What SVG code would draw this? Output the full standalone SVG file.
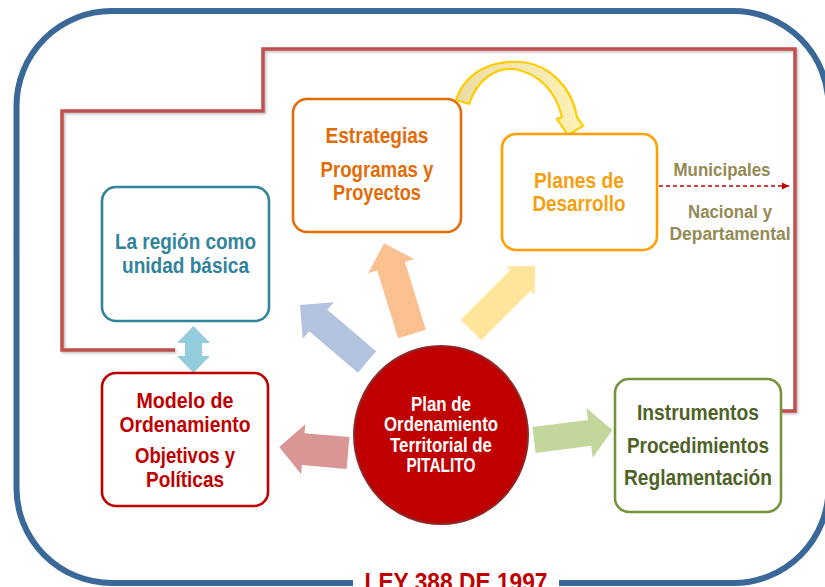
<svg xmlns="http://www.w3.org/2000/svg" width="825" height="587" viewBox="0 0 825 587">
<defs>
<style>
text{font-family:"Liberation Sans Narrow","Liberation Sans",Arial,sans-serif;font-weight:bold;text-anchor:middle}
.box{fill:#fff;stroke-width:2.6}
.t21{font-size:22.5px}
.t18{font-size:19.5px}
.t17{font-size:18px}
</style>
<linearGradient id="curveGrad" x1="0" y1="0" x2="1" y2="0">
<stop offset="0" stop-color="#EADDA6"/>
<stop offset="0.5" stop-color="#F3E6AE"/>
<stop offset="1" stop-color="#FFF2B8"/>
</linearGradient>
<marker id="dashHead" markerWidth="8" markerHeight="8" refX="7" refY="4" orient="auto" markerUnits="userSpaceOnUse">
<path d="M0,0.5 L7,4 L0,7.5 Z" fill="#C00000"/>
</marker>
<filter id="shadow" x="-5%" y="-5%" width="110%" height="110%">
<feDropShadow dx="1.5" dy="1.5" stdDeviation="1" flood-color="#000" flood-opacity="0.25"/>
</filter>
</defs>
<rect x="0" y="0" width="825" height="587" fill="#fff"/>
<rect id="frame" x="16.5" y="11" width="812" height="572" rx="95" ry="95" fill="none" stroke="#3A6898" stroke-width="6"/>

<g id="connectors">
<path d="M175,350 H62 V111 H263 V49 H795 V411 H781" fill="none" stroke="#C0504D" stroke-width="3.5" filter="url(#shadow)"/>
<line x1="645" y1="186" x2="789" y2="186" stroke="#C00000" stroke-width="1.3" stroke-dasharray="4,3" marker-end="url(#dashHead)"/>
<polygon fill="#B3C2DE" points="0,-14 64,-14 64,-24 88,0 64,24 64,14 0,14" transform="translate(367,362) rotate(-139.6)"/>
<polygon fill="#FAC090" points="0,-14.5 71,-14.5 71,-24 95,0 71,24 71,14.5 0,14.5" transform="translate(412,334) rotate(-107.1)"/>
<polygon fill="#FFE599" points="0,-14.5 70,-14.5 70,-20 90.5,0 70,20 70,14.5 0,14.5" transform="translate(471,330) rotate(-45)"/>
<polygon fill="#D99694" points="0,-16 45,-16 45,-25 69,0 45,25 45,16 0,16" transform="translate(348,453) rotate(-175)"/>
<polygon fill="#C3D69B" points="0,-13 56,-13 56,-25 79,0 56,25 56,13 0,13" transform="translate(534,440) rotate(-7.3)"/>
<path fill="#93CDDD" d="M193.5,326 L210,343 L202,343 L202,356 L210,356 L193.5,373 L177,356 L185,356 L185,343 L177,343 Z"/>
<path fill="url(#curveGrad)" stroke="#FFCC00" stroke-width="2.2" stroke-linejoin="miter" d="M456,100 C466,70 495,60 520,62 C550,64 572,88 577,117 L583,126 L568,135 L557,119 L562,117 C556,92 540,74 515,69 C495,67 477,80 469,104 Z"/>
</g>

<g id="node-region">
<rect class="box" x="102" y="187" width="167" height="134" rx="14" stroke="#31849B"/>
<text class="t21" fill="#31849B" x="185.5" y="249" textLength="141" lengthAdjust="spacingAndGlyphs">La región como</text>
<text class="t21" fill="#31849B" x="185.5" y="273" textLength="127" lengthAdjust="spacingAndGlyphs">unidad básica</text>
</g>

<g id="node-estrategias">
<rect class="box" x="293" y="99" width="168" height="133" rx="14" stroke="#E36C09"/>
<text class="t21" fill="#E36C09" x="377" y="143" textLength="103" lengthAdjust="spacingAndGlyphs">Estrategias</text>
<text class="t21" fill="#E36C09" x="377" y="177" textLength="113" lengthAdjust="spacingAndGlyphs">Programas y</text>
<text class="t21" fill="#E36C09" x="377" y="200" textLength="88" lengthAdjust="spacingAndGlyphs">Proyectos</text>
</g>

<g id="node-planes">
<rect class="box" x="502" y="134" width="155" height="116" rx="14" stroke="#FFA000"/>
<text class="t21" fill="#F5A00F" x="579" y="188" textLength="90" lengthAdjust="spacingAndGlyphs">Planes de</text>
<text class="t21" fill="#F5A00F" x="579" y="211" textLength="93" lengthAdjust="spacingAndGlyphs">Desarrollo</text>
</g>

<g id="labels-planes">
<text class="t17" fill="#948A54" x="722" y="176" textLength="97" lengthAdjust="spacingAndGlyphs">Municipales</text>
<text class="t17" fill="#948A54" x="730" y="218" textLength="84" lengthAdjust="spacingAndGlyphs">Nacional y</text>
<text class="t17" fill="#948A54" x="730" y="240" textLength="121" lengthAdjust="spacingAndGlyphs">Departamental</text>
</g>

<g id="node-modelo">
<rect class="box" x="102" y="373" width="166" height="133" rx="14" stroke="#C00000"/>
<text class="t21" fill="#C00000" x="185" y="408" textLength="97" lengthAdjust="spacingAndGlyphs">Modelo de</text>
<text class="t21" fill="#C00000" x="185" y="432" textLength="131" lengthAdjust="spacingAndGlyphs">Ordenamiento</text>
<text class="t21" fill="#C00000" x="185" y="463" textLength="100" lengthAdjust="spacingAndGlyphs">Objetivos y</text>
<text class="t21" fill="#C00000" x="185" y="487" textLength="78" lengthAdjust="spacingAndGlyphs">Políticas</text>
</g>

<g id="node-pot">
<ellipse cx="441" cy="435" rx="87" ry="89" fill="#C00000" stroke="#8C2A2A" stroke-width="2"/>
<text class="t18" fill="#fff" x="441" y="411" textLength="60" lengthAdjust="spacingAndGlyphs">Plan de</text>
<text class="t18" fill="#fff" x="441" y="431" textLength="114" lengthAdjust="spacingAndGlyphs">Ordenamiento</text>
<text class="t18" fill="#fff" x="441" y="452" textLength="102" lengthAdjust="spacingAndGlyphs">Territorial de</text>
<text class="t18" fill="#fff" x="441" y="472" textLength="69" lengthAdjust="spacingAndGlyphs">PITALITO</text>
</g>

<g id="node-instrumentos">
<rect class="box" x="615" y="379" width="166" height="133" rx="14" stroke="#77933C"/>
<text class="t21" fill="#4F6228" x="698" y="420" textLength="122" lengthAdjust="spacingAndGlyphs">Instrumentos</text>
<text class="t21" fill="#4F6228" x="698" y="453" textLength="142" lengthAdjust="spacingAndGlyphs">Procedimientos</text>
<text class="t21" fill="#4F6228" x="698" y="485" textLength="148" lengthAdjust="spacingAndGlyphs">Reglamentación</text>
</g>

<g id="title">
<rect x="353" y="576" width="206" height="11" fill="#fff"/>
<text fill="#C00000" x="456" y="591" style="font-size:25px" textLength="183" lengthAdjust="spacingAndGlyphs">LEY 388 DE 1997</text>
</g>
</svg>
